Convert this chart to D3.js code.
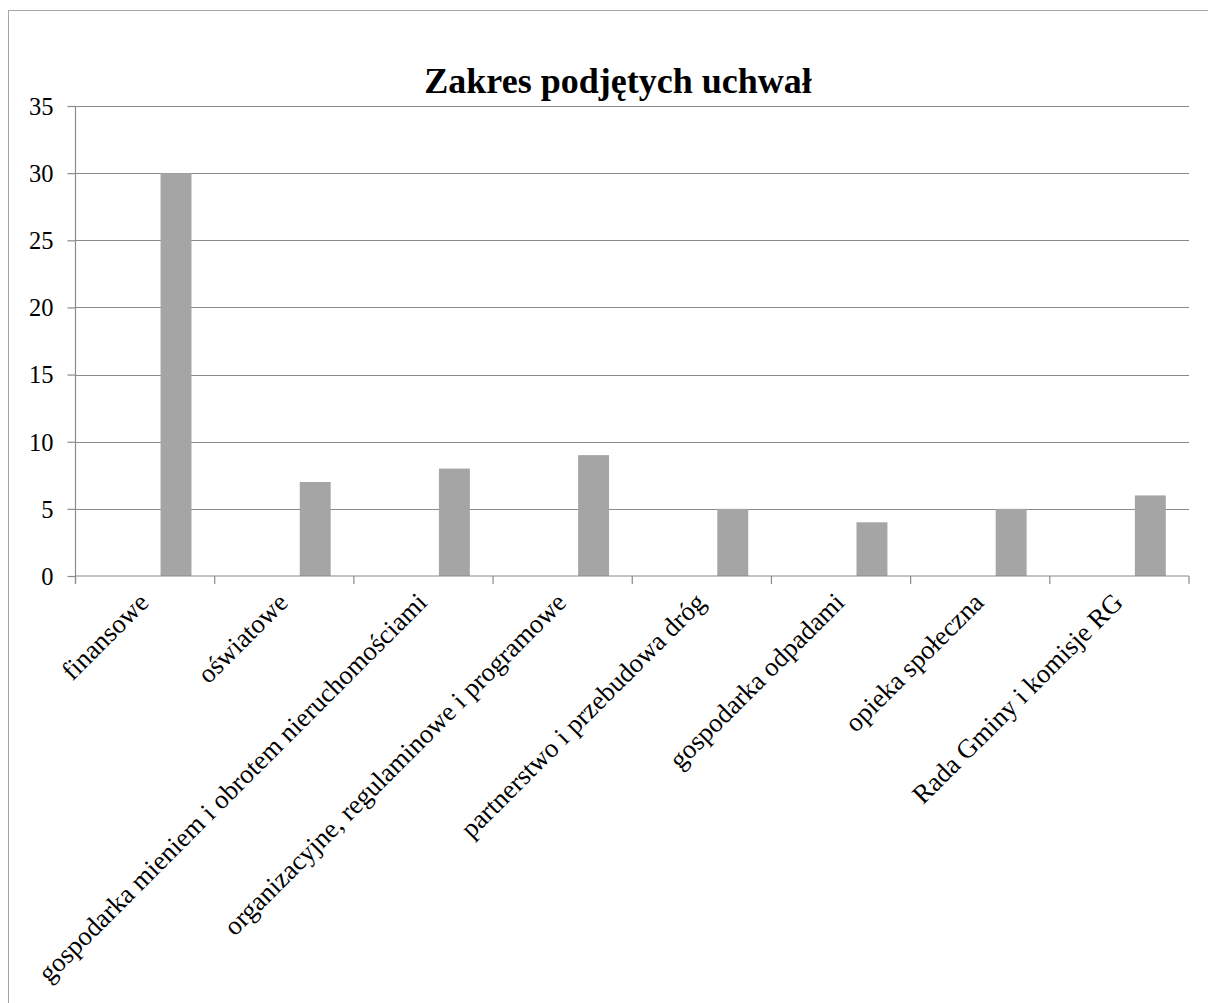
<!DOCTYPE html>
<html>
<head>
<meta charset="utf-8">
<script src="https://cdn.jsdelivr.net/npm/d3@7/dist/d3.min.js"></script>
<style>
  html, body { margin: 0; padding: 0; background: #fff; }
  svg { display: block; }
  text { font-family: "Liberation Serif", "Times New Roman", serif; fill: #000; }
</style>
</head>
<body>
<svg id="chart" width="1208" height="1003"></svg>
<script>
const title = "Zakres podjętych uchwał";
const categories = [
  "finansowe",
  "oświatowe",
  "gospodarka mieniem i obrotem nieruchomościami",
  "organizacyjne, regulaminowe i programowe",
  "partnerstwo i przebudowa dróg",
  "gospodarka odpadami",
  "opieka społeczna",
  "Rada Gminy i komisje RG"
];
const values = [30, 7, 8, 9, 5, 4, 5, 6];
const yTicks = [0, 5, 10, 15, 20, 25, 30, 35];
const seriesSlots = [0, 1, 2];   // Excel cluster: only third series holds data
const shownSlot = 2;

(function () {
const svg = d3.select("#chart");
const gridColor = "#8a8a8a";

// outer frame
svg.append("rect")
  .attr("x", 8.5).attr("y", 10.5)
  .attr("width", 1400).attr("height", 1200)
  .attr("fill", "none").attr("stroke", "#a6a6a6").attr("stroke-width", 1);

const pLeft = 75.5, pRight = 1189, pTop = 106, pBottom = 576;

const x = d3.scaleBand().domain(categories).range([pLeft, pRight]).padding(0);
const xs = d3.scaleBand().domain(seriesSlots).range([0, x.bandwidth()])
  .paddingInner(0).paddingOuter(0.75);
const y = d3.scaleLinear().domain([0, 35]).range([pBottom, pTop]);

// gridlines
svg.append("g").selectAll("line").data(yTicks.filter(d => d > 0)).join("line")
  .attr("x1", pLeft).attr("x2", pRight)
  .attr("y1", d => Math.round(y(d)) + 0.5).attr("y2", d => Math.round(y(d)) + 0.5)
  .attr("stroke", gridColor).attr("stroke-width", 1.2);

// bars
svg.append("g").selectAll("rect").data(values).join("rect")
  .attr("x", (d, i) => x(categories[i]) + xs(shownSlot))
  .attr("width", xs.bandwidth())
  .attr("y", d => y(d))
  .attr("height", d => y(0) - y(d))
  .attr("fill", "#a5a5a5");

// y axis
const yAxis = d3.axisLeft(y).tickValues(yTicks).tickSize(8).tickPadding(14).tickFormat(d3.format("d"));
const gy = svg.append("g").attr("transform", `translate(${pLeft},0)`).call(yAxis);
gy.select(".domain").attr("stroke", gridColor).attr("stroke-width", 1.2)
  .attr("d", `M0,${pTop}V${pBottom + 8}`);
gy.selectAll(".tick line").attr("stroke", gridColor).attr("stroke-width", 1.2);
gy.selectAll(".tick text")
  .style("font-family", '"Liberation Serif", serif').style("font-size", "24.5px").attr("fill", "#000")
  .attr("dy", "0.34em");

// x axis
const gx = svg.append("g").attr("transform", `translate(0,${pBottom})`);
gx.append("line").attr("x1", pLeft).attr("x2", pRight).attr("y1", 0).attr("y2", 0)
  .attr("stroke", gridColor).attr("stroke-width", 1.2);
const boundaries = categories.map(c => x(c)).concat([pRight]);
gx.selectAll("line.tk").data(boundaries).join("line").attr("class", "tk")
  .attr("x1", d => d).attr("x2", d => d).attr("y1", 0).attr("y2", 8)
  .attr("stroke", gridColor).attr("stroke-width", 1.2);
gx.selectAll("text.lbl").data(categories).join("text").attr("class", "lbl")
  .attr("transform", d => `translate(${x(d) + x.bandwidth() / 2 + 5},${28}) rotate(-45)`)
  .attr("text-anchor", "end")
  .style("font-size", "26.7px")
  .text(d => d);

// title
svg.append("text")
  .attr("x", 618).attr("y", 93)
  .attr("text-anchor", "middle")
  .style("font-size", "36px").style("font-weight", "bold")
  .text(title);
})();
</script>
</body>
</html>
